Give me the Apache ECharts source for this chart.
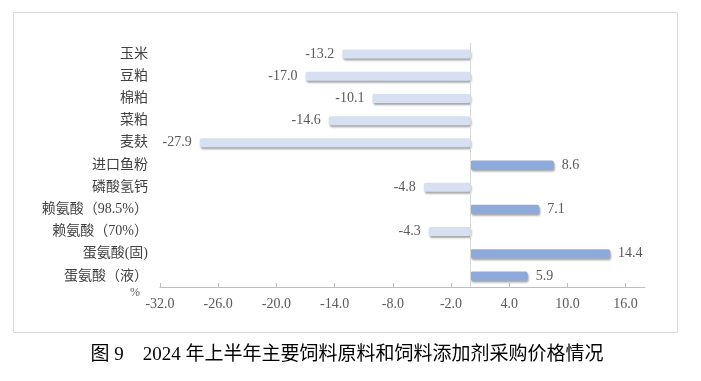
<!DOCTYPE html>
<html><head><meta charset="utf-8">
<script src="https://cdn.jsdelivr.net/npm/echarts@6/dist/echarts.min.js"></script>
<style>html,body{margin:0;padding:0;background:#fff}#c{width:701px;height:381px}</style>
</head><body><div id="c"></div>
<script>
const categories = ['玉米','豆粕','棉粕','菜粕','麦麸','进口鱼粉','磷酸氢钙','赖氨酸（98.5%）','赖氨酸（70%）','蛋氨酸(固)','蛋氨酸（液）'];
const values = [-13.2,-17.0,-10.1,-14.6,-27.9,8.6,-4.8,7.1,-4.3,14.4,5.9];
const titleText = '图 9　2024 年上半年主要饲料原料和饲料添加剂采购价格情况';
const unitText = '%';

const FONT = '"Liberation Serif","Noto Sans CJK SC",serif';
const chart = echarts.init(document.getElementById('c'));
chart.setOption({
  animation: false,
  grid: {left: 160, right: 56, top: 43, bottom: 94, containLabel: false},
  xAxis: {
    type: 'value', min: -32, max: 18, interval: 6,
    axisLine: {show: true, lineStyle: {color: '#bfbfbf', width: 1}},
    axisTick: {show: true, inside: true, length: 4, lineStyle: {color: '#bfbfbf'}},
    splitLine: {show: false},
    axisLabel: {color: '#595959', fontSize: 14, fontFamily: FONT, margin: 10, showMaxLabel: false,
      formatter: v => v.toFixed(1)}
  },
  yAxis: {
    type: 'category', data: categories, inverse: true,
    axisLine: {show: false}, axisTick: {show: false},
    axisLabel: {color: '#404040', fontSize: 14, fontFamily: FONT, margin: 12}
  },
  series: [{
    type: 'bar', barWidth: 9,
    data: values.map(v => ({
      value: v,
      itemStyle: {color: v < 0 ? '#d6e0f1' : '#8eaadb'},
      label: {show: true, position: v < 0 ? 'left' : 'right', distance: 8}
    })),
    itemStyle: {borderRadius: 2, shadowColor: 'rgba(0,0,0,0.35)', shadowBlur: 2, shadowOffsetX: 1, shadowOffsetY: 2},
    label: {color: '#595959', fontSize: 14, fontFamily: FONT, formatter: p => p.value.toFixed(1)},
    markLine: {
      silent: true, symbol: 'none', label: {show: false},
      lineStyle: {color: '#d9d9d9', width: 1, type: 'solid'},
      data: [{xAxis: 0}]
    }
  }],
  graphic: [
    {type: 'rect', shape: {x: 13.5, y: 12.5, width: 664, height: 320}, style: {fill: 'none', stroke: '#d9d9d9', lineWidth: 1}, z: -1},
    {type: 'text', x: 135, y: 293, style: {text: unitText, fill: '#595959', font: '12px ' + FONT, textAlign: 'center', textVerticalAlign: 'middle'}},
    {type: 'text', x: 347, y: 355, style: {text: titleText, fill: '#000', font: '19px ' + FONT, textAlign: 'center', textVerticalAlign: 'middle'}}
  ]
});
</script></body></html>
